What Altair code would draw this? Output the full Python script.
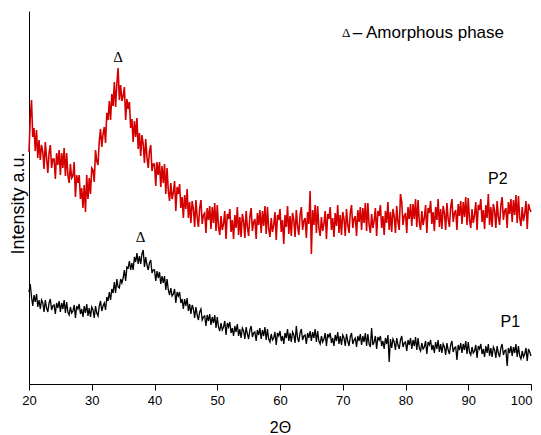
import altair as alt
import pandas as pd

# 2-theta grid (0.2 degree step, 20..100)
two_theta = [20 + 0.2 * i for i in range(401)]

# P2 (red) intensity (arbitrary units)
p2 = [
    232, 266, 284, 247, 256,   233, 254, 226, 244, 224,   239, 232, 215, 242, 226,
    211, 231, 239, 216, 225,   225, 205, 231, 219, 234,   209, 231, 216, 236, 208,
    231, 209, 201, 220, 206,   208, 222, 187, 209, 201,   209, 185, 196, 176, 199,
    172, 209, 185, 206, 190,   216, 214, 202, 234, 223,   219, 243, 255, 237, 250,
    257, 241, 271, 264, 283,   264, 290, 278, 302, 277,   300, 316, 284, 299, 283,
    288, 297, 264, 285, 275,   282, 256, 265, 242, 263,   247, 266, 235, 251, 228,
    249, 240, 221, 245, 227,   216, 233, 239, 213, 220,   220, 198, 222, 209, 222,
    197, 218, 201, 220, 190,   216, 193, 183, 201, 185,   191, 203, 173, 197, 190,
    200, 176, 187, 166, 189,   175, 195, 166, 182, 161,   183, 175, 157, 184, 167,
    157, 176, 184, 160, 169,   171, 151, 176, 164, 178,   155, 177, 161, 181, 153,
    179, 157, 149, 168, 154,   160, 173, 145, 170, 165,   175, 152, 164, 145, 169,
    156, 177, 149, 167, 147,   170, 163, 146, 173, 157,   148, 168, 176, 153, 162,
    165, 145, 171, 159, 174,   151, 173, 158, 178, 150,   177, 155, 147, 166, 152,
    159, 172, 144, 169, 164,   175, 152, 164, 140, 169,   157, 178, 150, 168, 148,
    171, 164, 147, 174, 158,   149, 169, 177, 154, 163,   166, 146, 172, 160, 193,
    130, 174, 159, 179, 151,   178, 156, 148, 167, 153,   160, 173, 145, 170, 165,
    177, 154, 166, 147, 171,   158, 179, 151, 169, 149,   172, 165, 148, 175, 159,
    151, 171, 179, 156, 165,   168, 148, 174, 162, 177,   154, 176, 161, 181, 153,
    181, 159, 151, 170, 156,   163, 176, 148, 173, 168,   179, 156, 168, 149, 173,
    161, 182, 154, 172, 152,   175, 168, 151, 178, 162,   154, 190, 182, 159, 168,
    171, 151, 177, 165, 180,   158, 180, 165, 185, 157,   184, 162, 154, 173, 159,
    166, 179, 151, 176, 171,   183, 160, 172, 153, 177,   164, 185, 157, 175, 155,
    178, 171, 154, 181, 165,   157, 177, 185, 162, 171,   174, 154, 180, 168, 183,
    160, 182, 167, 187, 159,   186, 164, 156, 175, 161,   169, 182, 154, 179, 174,
    185, 162, 174, 155, 179,   166, 190, 159, 177, 157,   180, 173, 156, 183, 167,
    159, 179, 187, 164, 173,   176, 156, 182, 170, 185,   162, 184, 169, 189, 161,
    188, 166, 158, 177, 163,   170, 183, 155, 180, 175,
    172,
]

# P1 (black) intensity (arbitrary units)
p1 = [
    92, 100, 87, 78, 89,   82, 90, 77, 84, 75,   84, 81, 72, 84, 76,
    72, 81, 85, 74, 78,    79, 70, 81, 76, 83,   72, 81, 75, 84, 71,
    82, 72, 69, 77, 71,    73, 79, 66, 78, 75,   80, 70, 75, 67, 78,
    71, 80, 68, 76, 67,    77, 74, 66, 78, 71,   68, 78, 83, 73, 78,
    81, 74, 87, 83, 92,    84, 95, 91, 102, 91,  105, 97, 96, 105, 101,
    106, 114, 103, 117, 116,  123, 114, 121, 114, 127,  122, 131, 120, 128, 120,
    130, 134, 117, 127, 119,  114, 121, 124, 111, 114,  114, 103, 113, 106, 112,
    100, 108, 101, 108, 94,   105, 94, 89, 96, 88,     90, 95, 81, 92, 88,
    92, 81, 85, 75, 85,    78, 86, 73, 80, 70,   79, 75, 66, 77, 69,
    64, 72, 75, 64, 67,    68, 58, 69, 63, 70,   59, 67, 61, 69, 56,
    67, 57, 53, 61, 54,    57, 63, 49, 61, 57,   62, 51, 56, 48, 58,
    52, 60, 48, 55, 46,    56, 53, 45, 57, 50,   45, 54, 58, 47, 51,
    52, 43, 54, 49, 56,    45, 54, 48, 57, 44,   55, 45, 42, 50, 44,
    46, 52, 39, 51, 48,    53, 43, 48, 40, 51,   46, 55, 43, 51, 42,
    52, 49, 41, 58, 46,    42, 51, 55, 44, 48,   49, 40, 51, 46, 53,
    43, 52, 46, 55, 42,    53, 43, 40, 48, 42,   45, 51, 38, 50, 47,
    51, 41, 46, 38, 49,    43, 52, 40, 48, 39,   49, 46, 38, 50, 43,
    38, 47, 51, 40, 44,    46, 37, 48, 43, 50,   39, 48, 42, 51, 38,
    50, 40, 37, 56, 39,    42, 48, 35, 47, 44,   48, 38, 43, 35, 46,
    40, 49, 22, 45, 36,    45, 42, 34, 46, 39,   35, 44, 48, 37, 41,
    42, 33, 44, 39, 46,    35, 44, 38, 47, 34,   46, 36, 33, 41, 35,
    37, 43, 30, 42, 39,    44, 34, 39, 31, 42,   35, 44, 32, 40, 31,
    40, 37, 29, 41, 34,    30, 39, 43, 32, 36,   37, 24, 39, 34, 41,
    31, 40, 34, 43, 30,    42, 32, 29, 37, 31,   33, 39, 26, 38, 35,
    40, 30, 35, 27, 38,    31, 40, 28, 36, 27,   37, 34, 26, 38, 31,
    27, 36, 40, 29, 33,    34, 18, 36, 31, 38,   28, 37, 31, 40, 27,
    38, 28, 25, 33, 27,    30, 36, 23, 35, 32,
    28,
]

# annotations
peak_x = [34.2, 37.8]
peak_y = [327, 147]
series_labels = ["P2", "P1"]
series_label_x = [94.7, 96.7]
series_label_y = [205, 62]
legend_symbol = ["\u0394"]
legend_text = ["\u2013 Amorphous phase"]
legend_x = [69.9, 71.6]
legend_y = [351]

RED = "#d40000"
SANS = "Liberation Sans"
SERIF = "Liberation Serif"

df2 = pd.DataFrame({"x": two_theta, "y": p2})
df1 = pd.DataFrame({"x": two_theta, "y": p1})

xscale = alt.Scale(domain=[20, 100], nice=False, zero=False)
yscale = alt.Scale(domain=[0, 373], nice=False, zero=False)

xaxis = alt.Axis(
    values=list(range(20, 101, 5)),
    labelExpr="datum.value % 10 === 0 ? datum.label : ''",
    tickSize={"condition": {"test": "datum.value % 10 === 0", "value": 6}, "value": 4},
    labelAlign={"condition": {"test": "datum.value === 100", "value": "right"}, "value": "center"},
    labelOffset={"condition": {"test": "datum.value === 100", "value": 1}, "value": 0},
    labelFlush=False,
    labelOverlap=False,
    labelPadding=4,
    grid=False,
    domainColor="black",
    tickColor="black",
    labelColor="black",
    labelFont=SANS,
    labelFontSize=13,
    title="2\u0398",
    titleFont=SANS,
    titleFontSize=16,
    titleFontWeight="normal",
    titleColor="black",
    titlePadding=12,
)
yaxis = alt.Axis(
    labels=False,
    ticks=False,
    grid=False,
    domainColor="black",
    title="Intensity a.u.",
    titleFont=SANS,
    titleFontSize=18,
    titleFontWeight="normal",
    titleColor="black",
    titlePadding=2,
    titleY=192,
)

line2 = alt.Chart(df2).mark_line(color=RED, strokeWidth=1.6).encode(
    x=alt.X("x:Q", scale=xscale, axis=xaxis),
    y=alt.Y("y:Q", scale=yscale, axis=yaxis),
)
line1 = alt.Chart(df1).mark_line(color="black", strokeWidth=1.3).encode(
    x=alt.X("x:Q", scale=xscale),
    y=alt.Y("y:Q", scale=yscale),
)

peaks = alt.Chart(pd.DataFrame({"x": peak_x, "y": peak_y, "t": ["\u0394", "\u0394"]})).mark_text(
    font=SERIF, fontSize=15, color="black", baseline="middle", align="center"
).encode(x="x:Q", y="y:Q", text="t:N")

labels = alt.Chart(pd.DataFrame({"x": series_label_x, "y": series_label_y, "t": series_labels})).mark_text(
    font=SANS, fontSize=16, color="black", baseline="middle", align="center"
).encode(x="x:Q", y="y:Q", text="t:N")

leg_sym = alt.Chart(pd.DataFrame({"x": legend_x[:1], "y": legend_y, "t": legend_symbol})).mark_text(
    font=SERIF, fontSize=13, color="black", baseline="middle", align="left"
).encode(x="x:Q", y="y:Q", text="t:N")

leg_txt = alt.Chart(pd.DataFrame({"x": legend_x[1:], "y": legend_y, "t": legend_text})).mark_text(
    font=SANS, fontSize=17, color="black", baseline="middle", align="left"
).encode(x="x:Q", y="y:Q", text="t:N")

chart = alt.layer(line2, line1, peaks, labels, leg_sym, leg_txt).properties(
    width=502,
    height=373,
    autosize="none",
    padding={"left": 21, "top": 3, "right": 2, "bottom": 51},
).configure_view(stroke=None)

chart.save("out.html", embed_options={"renderer": "svg", "actions": False})
